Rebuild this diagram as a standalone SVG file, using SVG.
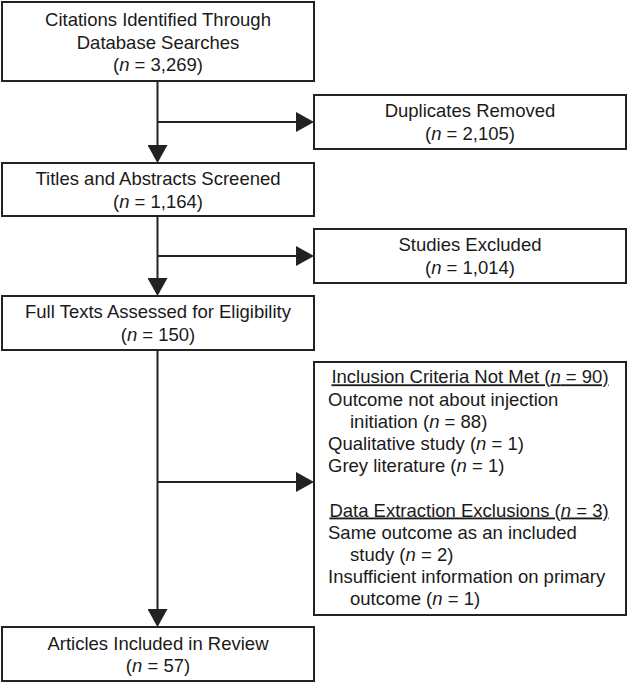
<svg xmlns="http://www.w3.org/2000/svg" width="628" height="682" viewBox="0 0 628 682">
<defs>
<style>
.box{fill:#fff;stroke:#222;stroke-width:2}
text{font-family:"Liberation Sans",Arial,sans-serif;font-size:18.5px;fill:#1a1a1a}
.c{text-anchor:middle}
.u{text-decoration:underline}
.ln{stroke:#222;stroke-width:2;fill:none}
</style>
<marker id="ah" markerUnits="userSpaceOnUse" markerWidth="18" markerHeight="20" refX="16" refY="10" orient="auto">
<path d="M0,0 L18,10 L0,20 Z" fill="#222"/>
</marker>
</defs>
<rect width="628" height="682" fill="#fff"/>
<g id="connectors">
<line class="ln" x1="157.5" y1="81" x2="157.5" y2="161" marker-end="url(#ah)"/>
<line class="ln" x1="157.5" y1="122" x2="312" y2="122" marker-end="url(#ah)"/>
<line class="ln" x1="157.5" y1="216" x2="157.5" y2="294" marker-end="url(#ah)"/>
<line class="ln" x1="157.5" y1="256" x2="312" y2="256" marker-end="url(#ah)"/>
<line class="ln" x1="157.5" y1="350" x2="157.5" y2="625" marker-end="url(#ah)"/>
<line class="ln" x1="157.5" y1="482" x2="312" y2="482" marker-end="url(#ah)"/>
</g>
<g id="n1">
<rect class="box" x="2" y="2" width="312" height="79"/>
<text class="c" x="158" y="26">Citations Identified Through</text>
<text class="c" x="158" y="48.5">Database Searches</text>
<text class="c" x="158" y="71">(<tspan font-style="italic">n</tspan> = 3,269)</text>
</g>
<g id="n2">
<rect class="box" x="314" y="95" width="312" height="54"/>
<text class="c" x="470" y="117">Duplicates Removed</text>
<text class="c" x="470" y="140">(<tspan font-style="italic">n</tspan> = 2,105)</text>
</g>
<g id="n3">
<rect class="box" x="2" y="163" width="312" height="53"/>
<text class="c" x="158" y="184.5">Titles and Abstracts Screened</text>
<text class="c" x="158" y="207.5">(<tspan font-style="italic">n</tspan> = 1,164)</text>
</g>
<g id="n4">
<rect class="box" x="314" y="229" width="312" height="54"/>
<text class="c" x="470" y="251">Studies Excluded</text>
<text class="c" x="470" y="274">(<tspan font-style="italic">n</tspan> = 1,014)</text>
</g>
<g id="n5">
<rect class="box" x="2" y="296" width="312" height="54"/>
<text class="c" x="158" y="318">Full Texts Assessed for Eligibility</text>
<text class="c" x="158" y="341">(<tspan font-style="italic">n</tspan> = 150)</text>
</g>
<g id="n6">
<rect class="box" x="314" y="362" width="312" height="253"/>
<text class="c u" x="470" y="383.3">Inclusion Criteria Not Met (<tspan font-style="italic">n</tspan> = 90)</text>
<text x="328" y="405.5">Outcome not about injection</text>
<text x="350" y="427.7">initiation (<tspan font-style="italic">n</tspan> = 88)</text>
<text x="328" y="449.9">Qualitative study (<tspan font-style="italic">n</tspan> = 1)</text>
<text x="328" y="472.1">Grey literature (<tspan font-style="italic">n</tspan> = 1)</text>
<text class="c u" x="469" y="516.5">Data Extraction Exclusions (<tspan font-style="italic">n</tspan> = 3)</text>
<text x="328" y="538.7">Same outcome as an included</text>
<text x="350" y="560.9">study (<tspan font-style="italic">n</tspan> = 2)</text>
<text x="328" y="583.1">Insufficient information on primary</text>
<text x="350" y="605.3">outcome (<tspan font-style="italic">n</tspan> = 1)</text>
</g>
<g id="n7">
<rect class="box" x="2" y="627" width="312" height="54"/>
<text class="c" x="158" y="649.5">Articles Included in Review</text>
<text class="c" x="158" y="672">(<tspan font-style="italic">n</tspan> = 57)</text>
</g>
</svg>
